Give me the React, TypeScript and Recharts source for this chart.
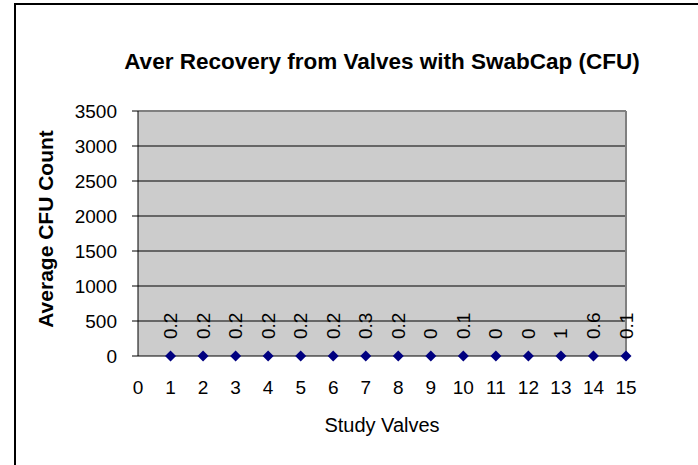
import React from 'react'
import {
  ScatterChart,
  Scatter,
  XAxis,
  YAxis,
  CartesianGrid,
  ReferenceLine,
  Label
} from 'recharts'

// Study valve numbers and average recovered CFU per valve
const valves = [1, 2, 3, 4, 5, 6, 7, 8, 9, 10, 11, 12, 13, 14, 15]
const cfuCounts = [0.2, 0.2, 0.2, 0.2, 0.2, 0.2, 0.3, 0.2, 0, 0.1, 0, 0, 1, 0.6, 0.1]
const xTicks = [0, 1, 2, 3, 4, 5, 6, 7, 8, 9, 10, 11, 12, 13, 14, 15]
const yTicks = [0, 500, 1000, 1500, 2000, 2500, 3000, 3500]

const data = valves.map((v, i) => ({ valve: v, cfu: cfuCounts[i] }))

const FONT = '"Liberation Sans", Arial, sans-serif'

// diamond marker + rotated value label above it
const DiamondWithLabel = (props: any) => {
  const { cx, cy, payload } = props
  const r = 5.5
  return (
    <g>
      <polygon
        points={`${cx},${cy - r} ${cx + r},${cy} ${cx},${cy + r} ${cx - r},${cy}`}
        fill="#000080"
      />
      <text
        transform={`translate(${cx},${cy - 17}) rotate(-90)`}
        textAnchor="start"
        dominantBaseline="central"
        fontFamily={FONT}
        fontSize={19}
        fill="#000"
      >
        {payload.cfu}
      </text>
    </g>
  )
}

export default function App() {
  return (
    <div style={{ position: 'relative', width: 698, height: 465, overflow: 'hidden', background: '#fff' }}>
      <style>{`body{margin:0}`}</style>
      <div
        style={{
          position: 'absolute',
          left: 14,
          top: 3,
          width: 700,
          height: 470,
          borderLeft: '2px solid #000',
          borderTop: '2px solid #000'
        }}
      />
      <ScatterChart
        width={698}
        height={465}
        margin={{ top: 111, right: 72, bottom: 0, left: 0 }}
        style={{ position: 'absolute', left: 0, top: 0 }}
      >
        <text x={382} y={61} textAnchor="middle" dominantBaseline="central"
          fontFamily={FONT} fontSize={22.5} fontWeight="bold" fill="#000">
          Aver Recovery from Valves with SwabCap (CFU)
        </text>
        <text transform="translate(45,229) rotate(-90)" textAnchor="middle" dominantBaseline="central"
          fontFamily={FONT} fontSize={21} fontWeight="bold" fill="#000">
          Average CFU Count
        </text>
        <CartesianGrid
          horizontal
          vertical={false}
          fill="#cccccc"
          stroke="#000"
          horizontalValues={[500, 1000, 1500, 2000, 2500, 3000]}
        />
        <XAxis
          type="number"
          dataKey="valve"
          domain={[0, 15]}
          ticks={xTicks}
          interval={0}
          height={109}
          axisLine={{ stroke: '#000' }}
          tickLine={false}
          tickMargin={19}
          tick={{ fill: '#000', fontSize: 19, fontFamily: FONT }}
        >
          <Label value="Study Valves" position="insideTop" offset={62}
            fill="#000" fontSize={20} fontFamily={FONT} />
        </XAxis>
        <YAxis
          type="number"
          dataKey="cfu"
          domain={[0, 3500]}
          ticks={yTicks}
          interval={0}
          width={138}
          axisLine={{ stroke: '#000' }}
          tickLine={{ stroke: '#000' }}
          tickSize={6}
          tickMargin={15}
          tick={{ fill: '#000', fontSize: 19, fontFamily: FONT }}
        />
        <ReferenceLine y={3500} stroke="#808080" strokeWidth={2} />
        <ReferenceLine x={15} stroke="#808080" strokeWidth={2} />
        <Scatter data={data} isAnimationActive={false} shape={<DiamondWithLabel />} />
      </ScatterChart>
    </div>
  )
}
